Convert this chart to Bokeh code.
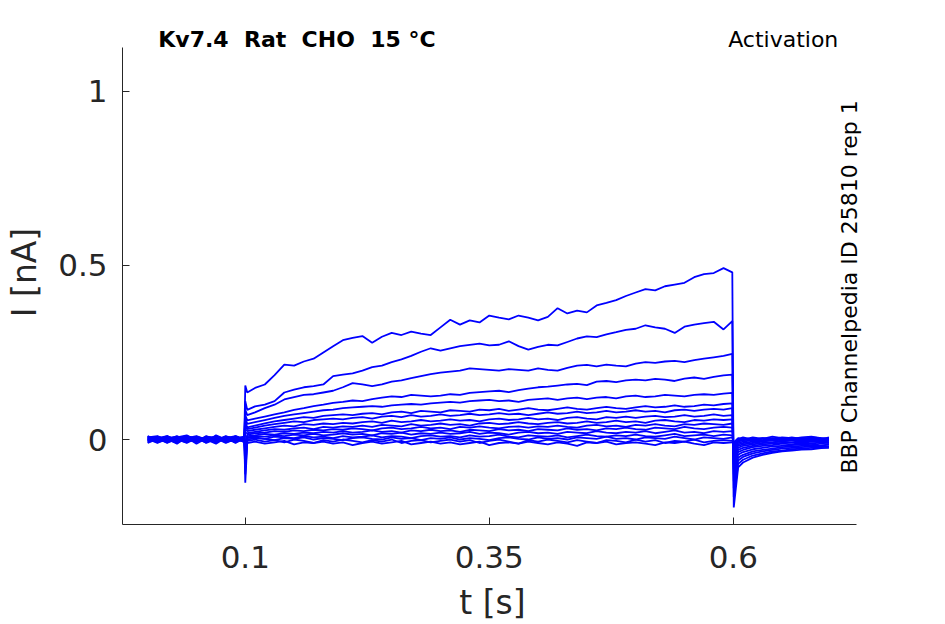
import math
from bokeh.plotting import figure
from bokeh.models import Range1d, FixedTicker, CustomJSTickFormatter, Label, ColumnDataSource
from bokeh.embed import file_html
from bokeh.resources import INLINE

# ---------------- time grids (s) ----------------
t_base = [0.000, 0.010, 0.020, 0.030, 0.040, 0.050, 0.060, 0.070, 0.080, 0.090, 0.099]
t_on = 0.100
t_step = [0.102, 0.11, 0.12, 0.13, 0.14, 0.15, 0.16, 0.17, 0.18, 0.19,
          0.20, 0.21, 0.22, 0.23, 0.24, 0.25, 0.26, 0.27, 0.28, 0.29,
          0.30, 0.31, 0.32, 0.33, 0.34, 0.35, 0.36, 0.37, 0.38, 0.39,
          0.40, 0.41, 0.42, 0.43, 0.44, 0.45, 0.46, 0.47, 0.48, 0.49,
          0.50, 0.51, 0.52, 0.53, 0.54, 0.55, 0.56, 0.57, 0.58, 0.59,
          0.599]
t_off = 0.6005
t_tail = [0.605, 0.61, 0.62, 0.63, 0.64, 0.65, 0.66, 0.67, 0.68, 0.69, 0.698]

x_ticks = [0.1, 0.35, 0.6]
y_ticks = [0, 0.5, 1]
x_limits = (-0.0258, 0.7258)
y_limits = (-0.244, 1.126)

# ---------------- currents (nA) ----------------
base_1 = [0.004, -0.006, 0.008, 0.000, -0.008, 0.006, -0.004, 0.010, 0.000, -0.006, 0.004]
base_2 = [-0.004, 0.008, 0.000, -0.010, 0.004, -0.002, 0.008, -0.006, 0.004, 0.010, -0.002]
base_3 = [0.008, 0.000, -0.006, 0.004, 0.010, -0.004, 0.000, 0.006, -0.008, 0.002, 0.008]
base_4 = [-0.008, 0.004, 0.010, -0.002, 0.000, 0.008, -0.010, 0.002, 0.006, -0.004, 0.000]
base_5 = [0.002, -0.010, 0.004, 0.008, -0.006, 0.000, 0.006, -0.004, 0.010, 0.000, -0.006]
base_6 = [0.006, 0.002, -0.008, 0.000, 0.006, -0.012, 0.004, 0.008, -0.002, 0.006, 0.002]
base_7 = [-0.002, 0.006, 0.002, -0.012, 0.008, 0.004, -0.006, 0.000, 0.008, -0.010, 0.004]
base_8 = [0.010, -0.004, 0.006, 0.002, -0.004, 0.008, 0.000, -0.008, 0.004, 0.006, -0.004]
base_9 = [0.000, 0.008, -0.004, 0.006, 0.012, -0.002, 0.006, 0.004, -0.010, 0.002, 0.008]
base_10 = [-0.006, 0.000, 0.010, -0.006, 0.002, 0.004, -0.008, 0.012, 0.000, -0.004, 0.006]
base_11 = [0.004, -0.008, 0.000, 0.010, -0.004, 0.006, 0.002, -0.006, 0.008, 0.004, -0.008]
base_12 = [-0.010, 0.002, 0.006, -0.004, 0.008, -0.008, 0.010, 0.000, -0.004, 0.008, 0.000]
base_13 = [0.006, 0.010, -0.002, 0.002, -0.010, 0.004, -0.004, 0.006, 0.002, -0.008, 0.006]
base_14 = [0.000, -0.004, 0.008, -0.008, 0.004, 0.010, 0.000, -0.012, 0.006, 0.000, -0.004]
base_15 = [-0.004, 0.004, -0.010, 0.006, 0.000, -0.006, 0.008, 0.004, -0.006, 0.010, 0.002]
base_16 = [0.008, -0.006, 0.004, 0.000, 0.010, 0.002, -0.008, 0.006, 0.000, -0.006, 0.004]

on_spike = [0.155, 0.110, 0.085, 0.070, 0.060, 0.050, 0.040, 0.030,
            0.020, -0.020, -0.030, -0.045, -0.060, -0.080, -0.100, -0.124]

step_1 = [0.135, 0.148, 0.158, 0.185, 0.215, 0.212, 0.224, 0.232, 0.250, 0.268,
          0.285, 0.292, 0.297, 0.278, 0.295, 0.306, 0.300, 0.310, 0.304, 0.300,
          0.322, 0.344, 0.330, 0.342, 0.336, 0.356, 0.350, 0.345, 0.356, 0.350,
          0.342, 0.352, 0.377, 0.362, 0.370, 0.365, 0.385, 0.392, 0.400, 0.412,
          0.422, 0.432, 0.428, 0.440, 0.445, 0.450, 0.466, 0.475, 0.478, 0.492,
          0.480]
step_2 = [0.085, 0.095, 0.100, 0.110, 0.135, 0.143, 0.150, 0.153, 0.158, 0.182,
          0.186, 0.190, 0.198, 0.208, 0.212, 0.222, 0.230, 0.240, 0.252, 0.262,
          0.255, 0.262, 0.268, 0.272, 0.275, 0.270, 0.272, 0.282, 0.268, 0.258,
          0.266, 0.272, 0.270, 0.280, 0.290, 0.296, 0.294, 0.302, 0.308, 0.315,
          0.318, 0.328, 0.322, 0.318, 0.306, 0.324, 0.330, 0.334, 0.338, 0.316,
          0.340]
step_3 = [0.070, 0.078, 0.090, 0.100, 0.115, 0.122, 0.128, 0.130, 0.135, 0.140,
          0.150, 0.162, 0.158, 0.153, 0.158, 0.166, 0.170, 0.176, 0.182, 0.188,
          0.192, 0.195, 0.198, 0.204, 0.202, 0.200, 0.198, 0.202, 0.200, 0.198,
          0.204, 0.200, 0.198, 0.206, 0.212, 0.214, 0.210, 0.215, 0.212, 0.210,
          0.218, 0.222, 0.220, 0.224, 0.226, 0.222, 0.228, 0.232, 0.236, 0.240,
          0.246]
step_4 = [0.055, 0.060, 0.066, 0.072, 0.078, 0.085, 0.090, 0.096, 0.100, 0.105,
          0.108, 0.112, 0.110, 0.116, 0.120, 0.124, 0.122, 0.128, 0.126, 0.124,
          0.126, 0.130, 0.128, 0.134, 0.136, 0.138, 0.140, 0.136, 0.142, 0.146,
          0.150, 0.152, 0.155, 0.158, 0.160, 0.156, 0.166, 0.168, 0.165, 0.170,
          0.172, 0.170, 0.174, 0.172, 0.168, 0.175, 0.178, 0.174, 0.180, 0.184,
          0.186]
step_5 = [0.045, 0.050, 0.056, 0.062, 0.068, 0.072, 0.076, 0.080, 0.084, 0.086,
          0.090, 0.092, 0.094, 0.096, 0.094, 0.098, 0.100, 0.102, 0.100, 0.104,
          0.106, 0.108, 0.106, 0.110, 0.112, 0.114, 0.110, 0.112, 0.108, 0.114,
          0.116, 0.118, 0.114, 0.118, 0.120, 0.116, 0.120, 0.122, 0.118, 0.124,
          0.126, 0.122, 0.124, 0.128, 0.126, 0.124, 0.128, 0.130, 0.128, 0.132,
          0.134]
step_6 = [0.035, 0.040, 0.046, 0.052, 0.056, 0.060, 0.064, 0.062, 0.068, 0.070,
          0.072, 0.070, 0.074, 0.076, 0.072, 0.078, 0.080, 0.076, 0.082, 0.080,
          0.078, 0.084, 0.082, 0.080, 0.086, 0.084, 0.088, 0.082, 0.086, 0.090,
          0.086, 0.084, 0.088, 0.092, 0.088, 0.086, 0.090, 0.094, 0.090, 0.088,
          0.092, 0.096, 0.092, 0.094, 0.098, 0.094, 0.096, 0.100, 0.098, 0.102,
          0.104]
step_7 = [0.030, 0.034, 0.040, 0.044, 0.048, 0.052, 0.050, 0.056, 0.058, 0.060,
          0.058, 0.062, 0.064, 0.060, 0.066, 0.068, 0.064, 0.070, 0.066, 0.068,
          0.072, 0.068, 0.070, 0.074, 0.070, 0.072, 0.076, 0.072, 0.074, 0.070,
          0.074, 0.078, 0.074, 0.076, 0.080, 0.076, 0.078, 0.082, 0.078, 0.080,
          0.084, 0.080, 0.082, 0.078, 0.084, 0.086, 0.082, 0.086, 0.088, 0.086,
          0.090]
step_8 = [0.024, 0.028, 0.032, 0.036, 0.040, 0.038, 0.044, 0.042, 0.046, 0.044,
          0.048, 0.046, 0.050, 0.052, 0.048, 0.054, 0.050, 0.052, 0.056, 0.052,
          0.054, 0.058, 0.054, 0.056, 0.052, 0.058, 0.060, 0.056, 0.058, 0.062,
          0.058, 0.060, 0.056, 0.062, 0.064, 0.060, 0.058, 0.064, 0.062, 0.066,
          0.062, 0.066, 0.068, 0.064, 0.066, 0.070, 0.066, 0.068, 0.072, 0.068,
          0.070]
step_9 = [0.018, 0.022, 0.026, 0.030, 0.028, 0.032, 0.034, 0.030, 0.036, 0.034,
          0.038, 0.036, 0.040, 0.036, 0.042, 0.040, 0.038, 0.044, 0.040, 0.042,
          0.046, 0.042, 0.044, 0.040, 0.046, 0.048, 0.044, 0.046, 0.050, 0.046,
          0.044, 0.048, 0.050, 0.046, 0.048, 0.052, 0.048, 0.050, 0.054, 0.050,
          0.052, 0.048, 0.054, 0.056, 0.052, 0.050, 0.056, 0.054, 0.058, 0.056,
          0.058]
step_10 = [0.014, 0.018, 0.020, 0.024, 0.022, 0.026, 0.024, 0.028, 0.026, 0.030,
           0.028, 0.032, 0.030, 0.026, 0.032, 0.034, 0.030, 0.032, 0.036, 0.032,
           0.034, 0.030, 0.036, 0.034, 0.038, 0.034, 0.032, 0.036, 0.038, 0.034,
           0.038, 0.036, 0.040, 0.036, 0.034, 0.040, 0.042, 0.038, 0.040, 0.036,
           0.042, 0.040, 0.044, 0.040, 0.038, 0.044, 0.042, 0.046, 0.044, 0.042,
           0.046]
step_11 = [0.010, 0.012, 0.016, 0.014, 0.018, 0.016, 0.020, 0.018, 0.022, 0.020,
           0.024, 0.020, 0.022, 0.026, 0.022, 0.024, 0.020, 0.026, 0.024, 0.028,
           0.024, 0.026, 0.022, 0.028, 0.026, 0.024, 0.030, 0.026, 0.028, 0.024,
           0.030, 0.028, 0.026, 0.032, 0.028, 0.030, 0.026, 0.032, 0.030, 0.034,
           0.030, 0.028, 0.034, 0.032, 0.030, 0.036, 0.032, 0.030, 0.034, 0.036,
           0.034]
step_12 = [0.006, 0.010, 0.008, 0.012, 0.010, 0.014, 0.012, 0.016, 0.012, 0.014,
           0.018, 0.014, 0.016, 0.012, 0.018, 0.016, 0.020, 0.014, 0.018, 0.016,
           0.020, 0.016, 0.018, 0.022, 0.016, 0.020, 0.018, 0.014, 0.020, 0.022,
           0.018, 0.020, 0.016, 0.022, 0.020, 0.018, 0.024, 0.020, 0.018, 0.022,
           0.020, 0.024, 0.018, 0.022, 0.026, 0.020, 0.022, 0.018, 0.024, 0.022,
           0.024]
step_13 = [0.004, 0.006, 0.002, 0.008, 0.006, 0.004, 0.010, 0.006, 0.008, 0.004,
           0.010, 0.006, 0.008, 0.012, 0.006, 0.010, 0.008, 0.004, 0.010, 0.012,
           0.008, 0.010, 0.006, 0.012, 0.008, 0.010, 0.014, 0.008, 0.006, 0.012,
           0.010, 0.008, 0.012, 0.006, 0.010, 0.014, 0.010, 0.008, 0.012, 0.010,
           0.014, 0.010, 0.008, 0.012, 0.016, 0.010, 0.012, 0.014, 0.010, 0.014,
           0.012]
step_14 = [0.000, 0.004, 0.002, -0.002, 0.004, 0.002, 0.006, 0.000, 0.004, 0.002,
           -0.002, 0.004, 0.006, 0.002, 0.000, 0.006, 0.002, 0.004, -0.002, 0.004,
           0.002, 0.006, 0.000, 0.004, 0.002, -0.002, 0.004, 0.006, 0.002, 0.000,
           0.006, 0.002, 0.004, 0.000, 0.006, 0.004, 0.002, 0.008, 0.002, 0.004,
           0.000, 0.006, 0.004, 0.002, 0.008, 0.004, 0.000, 0.006, 0.004, 0.002,
           0.006]
step_15 = [-0.004, 0.000, -0.006, -0.002, -0.008, 0.000, -0.004, -0.010, -0.002, -0.006,
           0.000, -0.004, -0.008, -0.002, -0.006, 0.000, -0.010, -0.004, -0.002, -0.008,
           -0.004, 0.000, -0.006, -0.002, -0.010, -0.004, 0.000, -0.006, -0.012, -0.002,
           -0.006, 0.000, -0.004, -0.008, -0.002, -0.006, -0.010, -0.002, -0.004, -0.008,
           0.000, -0.006, -0.002, -0.010, -0.004, -0.006, 0.000, -0.008, -0.004, -0.002,
           -0.004]
step_16 = [-0.010, -0.006, -0.012, -0.008, -0.004, -0.014, -0.008, -0.010, -0.006, -0.012,
           -0.008, -0.016, -0.010, -0.006, -0.012, -0.008, -0.004, -0.014, -0.010, -0.006,
           -0.012, -0.008, -0.014, -0.010, -0.006, -0.016, -0.010, -0.008, -0.012, -0.006,
           -0.010, -0.014, -0.008, -0.012, -0.018, -0.008, -0.010, -0.006, -0.014, -0.010,
           -0.008, -0.012, -0.016, -0.008, -0.010, -0.006, -0.012, -0.016, -0.008, -0.010,
           -0.008]

off_dip = [-0.195, -0.165, -0.140, -0.120, -0.100, -0.085, -0.070, -0.060,
           -0.050, -0.040, -0.032, -0.025, -0.020, -0.015, -0.010, -0.008]

tail_1 = [-0.080, -0.066, -0.052, -0.044, -0.038, -0.034, -0.032, -0.029, -0.028, -0.025, -0.024]
tail_2 = [-0.070, -0.058, -0.046, -0.040, -0.034, -0.032, -0.028, -0.026, -0.024, -0.022, -0.020]
tail_3 = [-0.060, -0.050, -0.040, -0.034, -0.030, -0.026, -0.024, -0.022, -0.020, -0.018, -0.020]
tail_4 = [-0.052, -0.044, -0.034, -0.030, -0.026, -0.022, -0.020, -0.018, -0.016, -0.018, -0.014]
tail_5 = [-0.044, -0.036, -0.028, -0.024, -0.020, -0.018, -0.016, -0.014, -0.016, -0.012, -0.014]
tail_6 = [-0.036, -0.030, -0.022, -0.018, -0.016, -0.012, -0.014, -0.010, -0.012, -0.008, -0.010]
tail_7 = [-0.030, -0.024, -0.018, -0.014, -0.012, -0.010, -0.008, -0.010, -0.006, -0.008, -0.006]
tail_8 = [-0.024, -0.018, -0.014, -0.010, -0.008, -0.006, -0.008, -0.004, -0.006, -0.004, -0.008]
tail_9 = [-0.018, -0.014, -0.010, -0.006, -0.008, -0.004, -0.002, -0.006, -0.002, -0.004, -0.002]
tail_10 = [-0.014, -0.010, -0.006, -0.004, -0.002, -0.006, 0.000, -0.002, -0.004, 0.000, -0.002]
tail_11 = [-0.010, -0.006, -0.002, -0.004, 0.000, -0.002, 0.002, -0.002, 0.000, 0.002, -0.002]
tail_12 = [-0.006, -0.002, 0.000, -0.004, 0.002, 0.000, -0.002, 0.002, 0.004, 0.000, 0.002]
tail_13 = [-0.004, 0.000, 0.002, -0.002, 0.004, 0.000, 0.002, 0.004, 0.000, 0.002, 0.004]
tail_14 = [0.000, 0.002, -0.002, 0.004, 0.000, 0.002, 0.006, 0.002, 0.004, 0.000, 0.006]
tail_15 = [0.002, 0.006, 0.000, 0.004, 0.002, 0.006, 0.004, 0.000, 0.006, 0.004, 0.002]
tail_16 = [0.004, 0.000, 0.006, 0.002, 0.008, 0.004, 0.002, 0.006, 0.008, 0.004, 0.002]

bases = [base_1, base_2, base_3, base_4, base_5, base_6, base_7, base_8,
         base_9, base_10, base_11, base_12, base_13, base_14, base_15, base_16]
steps = [step_1, step_2, step_3, step_4, step_5, step_6, step_7, step_8,
         step_9, step_10, step_11, step_12, step_13, step_14, step_15, step_16]
tails = [tail_1, tail_2, tail_3, tail_4, tail_5, tail_6, tail_7, tail_8,
         tail_9, tail_10, tail_11, tail_12, tail_13, tail_14, tail_15, tail_16]

t_all = t_base + [t_on] + t_step + [t_off] + t_tail
xs, ys = [], []
for k in range(len(steps)):
    xs.append(t_all)
    ys.append(bases[k] + [on_spike[k]] + steps[k] + [off_dip[k]] + tails[k])

src = ColumnDataSource(data=dict(xs=xs, ys=ys))

# ---------------- figure ----------------
INK = "#262626"
FONT = "DejaVu Sans"
W, H = 929, 624
FL, FR, FT, FB = 122, 862, 20, 525          # frame edges (px)
PX_PER_S, PX_PER_NA = 976.0, 349.0
x_end = x_limits[0] + (FR - FL) / PX_PER_S
y_end = y_limits[0] + (FB - FT) / PX_PER_NA

p = figure(width=W, height=H, output_backend="svg", toolbar_location=None,
           x_range=Range1d(x_limits[0], x_end), y_range=Range1d(y_limits[0], y_end),
           min_border_left=FL, min_border_right=W - FR,
           min_border_top=FT, min_border_bottom=H - FB)
p.outline_line_color = None
p.grid.visible = False
p.background_fill_color = "white"
p.border_fill_color = "white"

p.multi_line(xs="xs", ys="ys", source=src, line_color="#0000ff", line_width=1.8)

for ax in (p.xaxis[0], p.yaxis[0]):
    ax.axis_line_color = INK
    ax.axis_line_width = 1
    ax.major_tick_line_color = INK
    ax.major_tick_in = 7
    ax.major_tick_out = 0
    ax.minor_tick_line_color = None
    ax.major_label_text_font = FONT
    ax.major_label_text_font_size = "31px"
    ax.major_label_text_color = INK
    ax.axis_label_text_font = FONT
    ax.axis_label_text_font_size = "33px"
    ax.axis_label_text_font_style = "normal"
    ax.axis_label_text_color = INK
    ax.formatter = CustomJSTickFormatter(code="return tick.toString();")

p.xaxis.bounds = x_limits
p.yaxis.bounds = y_limits
p.xaxis.ticker = FixedTicker(ticks=x_ticks)
p.yaxis.ticker = FixedTicker(ticks=y_ticks)
p.xaxis.axis_label = "t [s]"
p.yaxis.axis_label = "I [nA]"
p.xaxis.major_label_standoff = 21
p.yaxis.major_label_standoff = 15
p.xaxis.axis_label_standoff = 12
p.yaxis.axis_label_standoff = 11

NB = "\u00a0"
title_text = "Kv7.4" + NB + " Rat" + NB + " CHO" + NB + " 15 °C"
title_y = 1.1476
p.add_layout(Label(x=0.0109, y=title_y, text=title_text,
                   text_font=FONT, text_font_size="22px", text_font_style="bold",
                   text_color="black", text_align="left", text_baseline="alphabetic"))
p.add_layout(Label(x=0.7076, y=title_y, text="Activation",
                   text_font=FONT, text_font_size="22px",
                   text_color="black", text_align="right", text_baseline="alphabetic"))
p.add_layout(Label(x=0.7189, y=0.438, text="BBP Channelpedia ID 25810 rep 1",
                   angle=math.pi / 2, angle_units="rad",
                   text_font=FONT, text_font_size="22px",
                   text_color="black", text_align="center", text_baseline="alphabetic"))

open("out.html", "w").write(file_html(p, INLINE))
